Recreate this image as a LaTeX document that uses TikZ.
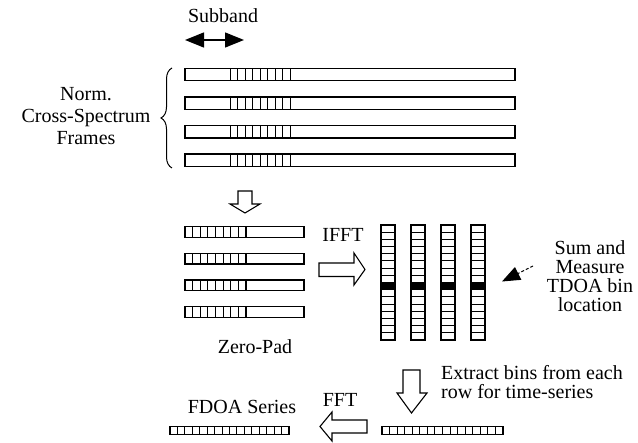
\documentclass[tikz,border=0pt]{standalone}
\usepackage{fontspec}
\setmainfont{Liberation Serif}
\usetikzlibrary{arrows.meta,decorations.pathreplacing}
\tikzset{
  bar/.style={draw=black,line width=1.3pt,fill=white},
  cell/.style={draw=black,line width=1pt},
  hollowarrow/.style={draw=black,line width=1.1pt,fill=white,line join=miter},
  lbl/.style={font=\fontsize{20}{19}\selectfont,inner sep=0pt,align=center},
}
\begin{document}
\begin{tikzpicture}[x=1pt,y=-1pt]
\useasboundingbox (0,0) rectangle (638,443);
% Subband
\node[lbl] (subband) at (223,16) {Subband};
\coordinate (sbL) at (185,40);
\coordinate (sbR) at (244,40);
\draw[line width=1.3pt,{Triangle[length=19pt,width=15pt]}-{Triangle[length=19pt,width=15pt]}] (sbL) -- (sbR);
% brace + label
\draw[line width=1pt,decorate,decoration={brace,amplitude=11pt}] (172,168) -- (172,68);
\node[lbl,font=\fontsize{20}{22}\selectfont] (norm) at (86,116) {Norm.\\Cross-Spectrum\\Frames};
% top frames
\foreach \i in {0,1,2,3}{
  \pgfmathsetmacro\yt{68.3+28.6*\i}
  \draw[bar] (185,\yt) rectangle (515,\yt+12.4);
  \foreach \k in {0,...,8}{
    \draw[cell] (230+7.5*\k,\yt) -- (230+7.5*\k,\yt+12.4);
  }
}
% down arrow 1
\draw[hollowarrow] (238,191) -- (252,191) -- (252,204) -- (260,204) -- (245,213) -- (230,204) -- (238,204) -- cycle;
% zero-pad frames
\foreach \i in {0,1,2,3}{
  \pgfmathsetmacro\yt{226.7+26.7*\i}
  \draw[bar] (185,\yt) rectangle (304,\yt+10.7);
  \foreach \k in {1,...,7}{
    \draw[cell] (185+7.6*\k,\yt) -- (185+7.6*\k,\yt+10.7);
  }
  \draw[line width=2.4pt] (246,\yt) -- (246,\yt+10.7);
}
\node[lbl] (zeropad) at (255,347) {Zero-Pad};
% IFFT
\node[lbl] (ifft) at (343,235) {IFFT};
\draw[hollowarrow] (319,263) -- (354,263) -- (354,253) -- (365,269.5) -- (354,285) -- (354,276.5) -- (319,276.5) -- cycle;
% columns
\foreach \c in {0,1,2,3}{
  \pgfmathsetmacro\xl{381+30*\c}
  \fill[black] (\xl,225+7.1875*8) rectangle (\xl+14,225+7.1875*9);
  \foreach \k in {1,...,15}{
    \draw[cell] (\xl,225+7.1875*\k) -- (\xl+14,225+7.1875*\k);
  }
  \draw[line width=1.6pt] (\xl,225) rectangle (\xl+14,340);
}
% sum and measure
\node[lbl] (sum) at (590,276.5) {Sum and\\Measure\\TDOA bin\\location};
\coordinate (smA) at (533,266);
\coordinate (smB) at (502,281.5);
\draw[line width=1pt,densely dashed,-{Triangle[length=18pt,width=14pt]}] (smA) -- (smB);
% down arrow 2
\draw[hollowarrow] (403,370) -- (420,370) -- (420,393) -- (427,393) -- (411.5,413) -- (397,393) -- (403,393) -- cycle;
\node[lbl,anchor=west,align=left] (extract) at (441,382.5) {Extract bins from each\\row for time-series};
% bottom bars
\foreach \x/\w in {170/119,382/121}{
  \draw[bar] (\x,426.3) rectangle (\x+\w,434.3);
  \foreach \k in {1,...,15}{
    \draw[cell] (\x+\w/16*\k,426.3) -- (\x+\w/16*\k,434.3);
  }
}
% FFT
\node[lbl] (fft) at (340,400) {FFT};
\node[lbl] (fdoa) at (242,407) {FDOA Series};
\draw[hollowarrow] (367,420) -- (332,420) -- (332,412) -- (320,426.5) -- (332,441) -- (332,433) -- (367,433) -- cycle;
\end{tikzpicture}
\end{document}
